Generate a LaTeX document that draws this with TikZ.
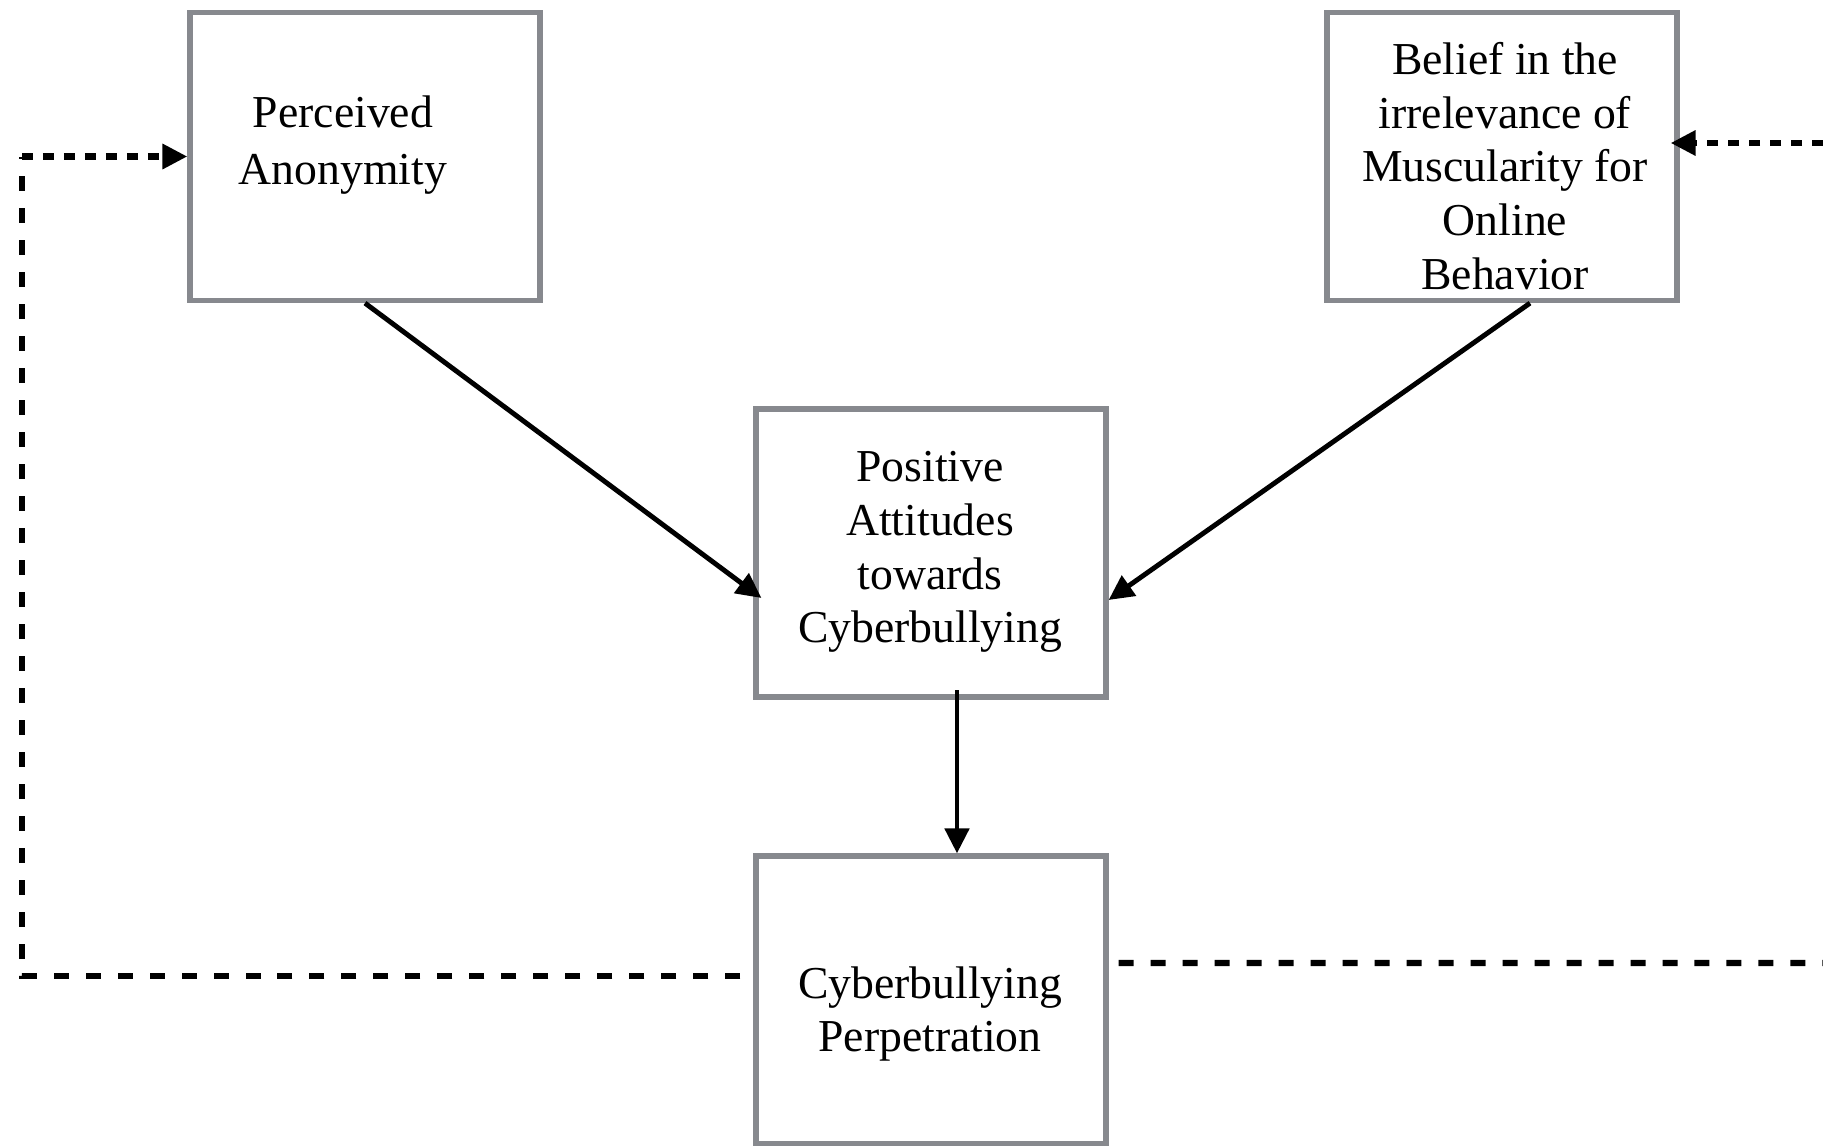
\documentclass[tikz,border=0pt]{standalone}
\usepackage{fontspec}
\setmainfont{Liberation Serif}
\usetikzlibrary{arrows.meta,calc}
\definecolor{boxgray}{RGB}{135,137,142}

\begin{document}
\begin{tikzpicture}[
  x=0.02cm, y=-0.02cm,
  box/.style={draw=boxgray, line width=3pt, minimum width=7cm, minimum height=5.76cm, inner sep=0pt},
  txt/.style={font=\fontsize{26}{30.6}\selectfont, align=center},
  tip/.style={-{Triangle[length=0.5cm, width=0.48cm]}},
  link/.style={line width=2.8pt, tip},
  fbtop/.style={line width=3.6pt, dash pattern=on 0.22cm off 0.2cm},
  fbbot/.style={line width=3.6pt, dash pattern=on 0.3cm off 0.34cm}
]
  \useasboundingbox (0,0) rectangle (1823,1146);

  % --- boxes
  \node[box] (anon)   at (365,156.5) {};
  \node[box] (belief) at (1502,156.5) {};
  \node[box] (att)    at (931,553) {};
  \node[box] (perp)   at (931,1000) {};

  \node[txt] (anontxt)   at (343,145)  {Perceived\\[2pt]Anonymity};
  \node[txt] (belieftxt) at (1505,166) {Belief in the\\irrelevance of\\Muscularity for\\Online\\Behavior};
  \node[txt] (atttxt)    at (930,552)  {Positive\\Attitudes\\towards\\Cyberbullying};
  \node[txt] (perptxt)   at (930,1014) {Cyberbullying\\Perpetration};

  % --- direct paths
  \draw[link] (anon.south) -- ([xshift=0.16cm,yshift=-0.9cm]att.west);
  \draw[link] ([xshift=0.56cm]belief.south) -- ([yshift=-0.94cm]att.east);
  \draw[link] ([xshift=0.52cm,yshift=0.19cm]att.south) -- ([xshift=0.52cm]perp.north);

  % --- feedback (dashed)
  \coordinate (lrail) at (22,0);
  \coordinate (rtop)  at (1823,143);
  \coordinate (rbot)  at (1823,963);
  \draw[fbbot] ([xshift=-0.26cm,yshift=0.48cm]perp.west) -| (lrail |- anon.west);
  \draw[fbtop, tip] (lrail |- anon.west) -- (anon.west);
  \draw[fbbot] ([xshift=0.2cm,yshift=0.74cm]perp.east) -- (rbot);
  \draw[fbtop, tip] (rtop) -- ([xshift=-0.18cm]belief.east |- rtop);
\end{tikzpicture}
\end{document}
